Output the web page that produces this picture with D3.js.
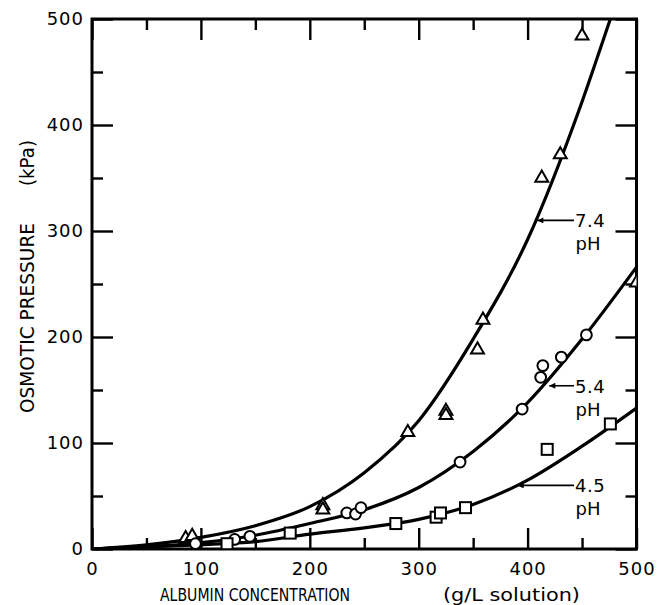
<!DOCTYPE html>
<html><head><meta charset="utf-8">
<script src="https://cdn.jsdelivr.net/npm/d3@7"></script>
<style>body{margin:0;background:#fff}svg{display:block}</style>
</head><body>
<svg id="c" width="658" height="605"></svg>
<script>
// ---- data ----
const xMajorTicks = [0,100,200,300,400,500];
const xMinorTicks = [50,150,250,350,450];
const yMajorTicks = [0,100,200,300,400,500];
const yMinorTicks = [50,150,250,350,450];

// fitted curves
const curve74X = [0,50,100,150,200,250,300,350,400,450,476,485];
const curve74Y = [0,4,11,22,40,72,121,198,292,422,500,527];
const curve54X = [0,50,100,150,200,250,300,350,400,450,500];
const curve54Y = [0,2,6,13,24,37,58,92,138,198,266];
const curve45X = [0,50,100,150,200,250,300,350,400,450,500];
const curve45Y = [0,2,4,7,14,20,28,42,65,97,133];

// measured points
const ph74X = [86,92,212,212,290,325,325,354,359,413,430,450,500];
const ph74Y = [11,13,42,38,111,131,127,189,217,351,373,485,252];
const ph54X = [95,131,145,234,242,247,338,395,412,414,431,454];
const ph54Y = [5,9,12,34,33,39,82,132,162,173,181,202];
const ph45X = [124,182,279,316,320,343,418,476];
const ph45Y = [5,15,24,30,34,39,94,118];

const labels = [
  {text:"7.4", sub:"pH", tipX:408, tipY:310},
  {text:"5.4", sub:"pH", tipX:419, tipY:154},
  {text:"4.5", sub:"pH", tipX:390, tipY:60}
];

// ---- layout ----
const L=92, R=636.5, T=19, B=549;
const svg = d3.select("#c");
const x = d3.scaleLinear().domain([0,500]).range([L,R]);
const y = d3.scaleLinear().domain([0,500]).range([B,T]);
const FONT = "'DejaVu Sans', sans-serif";

svg.append("defs").append("clipPath").attr("id","plot")
  .append("rect").attr("x",L).attr("y",T).attr("width",R-L).attr("height",B-T);

function styleAxis(g, showLabels){
  g.select(".domain").remove();
  g.selectAll(".tick line").attr("stroke","#000").attr("stroke-width",2.4);
  g.selectAll(".tick text").attr("font-family",FONT).attr("font-size",18)
    .attr("fill","#000").attr("letter-spacing","1px");
  if(!showLabels) g.selectAll(".tick text").remove();
}
function drawAxis(axisFn, scale, transform, majors, minors, showLabels, pad){
  const gMaj = svg.append("g").attr("transform",transform)
    .call(axisFn(scale).tickValues(majors).tickSizeInner(-21).tickSizeOuter(0).tickPadding(pad).tickFormat(d3.format("d")));
  styleAxis(gMaj, showLabels);
  const gMin = svg.append("g").attr("transform",transform)
    .call(axisFn(scale).tickValues(minors).tickSizeInner(-11).tickSizeOuter(0).tickFormat(""));
  styleAxis(gMin, false);
}
drawAxis(d3.axisBottom, x, `translate(0,${B})`, xMajorTicks, xMinorTicks, true, 13);
drawAxis(d3.axisTop, x, `translate(0,${T})`, xMajorTicks, xMinorTicks, false, 0);
drawAxis(d3.axisLeft, y, `translate(${L},0)`, yMajorTicks, yMinorTicks, true, 8);
drawAxis(d3.axisRight, y, `translate(${R},0)`, yMajorTicks, yMinorTicks, false, 0);

// frame
svg.append("rect").attr("x",L).attr("y",T).attr("width",R-L).attr("height",B-T)
  .attr("fill","none").attr("stroke","#000").attr("stroke-width",3);

// curves
const line = d3.line().x(d=>x(d[0])).y(d=>y(d[1])).curve(d3.curveMonotoneX);
const plot = svg.append("g").attr("clip-path","url(#plot)");
[[curve74X,curve74Y],[curve54X,curve54Y],[curve45X,curve45Y]].forEach(([xs,ys])=>{
  plot.append("path").datum(xs.map((v,i)=>[v,ys[i]])).attr("d",line)
    .attr("fill","none").attr("stroke","#000").attr("stroke-width",3.2);
});

// markers
const mk = svg.append("g").attr("clip-path","url(#plot)");
mk.selectAll(".tri").data(ph74X.map((v,i)=>[v,ph74Y[i]])).join("path")
  .attr("d",d3.symbol(d3.symbolTriangle, 72))
  .attr("transform",d=>`translate(${x(d[0])},${y(d[1])+1})`)
  .attr("fill","#fff").attr("stroke","#000").attr("stroke-width",2);
mk.selectAll(".cir").data(ph54X.map((v,i)=>[v,ph54Y[i]])).join("circle")
  .attr("cx",d=>x(d[0])).attr("cy",d=>y(d[1])).attr("r",5.4)
  .attr("fill","#fff").attr("stroke","#000").attr("stroke-width",2);
mk.selectAll(".sq").data(ph45X.map((v,i)=>[v,ph45Y[i]])).join("rect")
  .attr("x",d=>x(d[0])-5.5).attr("y",d=>y(d[1])-5.5).attr("width",11).attr("height",11)
  .attr("fill","#fff").attr("stroke","#000").attr("stroke-width",2);

// curve labels with arrows
const defs = svg.select("defs");
defs.append("marker").attr("id","arr").attr("viewBox","0 0 10 10").attr("refX",10).attr("refY",5)
  .attr("markerWidth",8).attr("markerHeight",6).attr("markerUnits","userSpaceOnUse").attr("orient","auto")
  .append("path").attr("d","M0,0L10,5L0,10z").attr("fill","#000");
labels.forEach(l=>{
  const tx = x(l.tipX), ty = y(l.tipY);
  svg.append("line").attr("x1",574).attr("y1",ty).attr("x2",tx+1).attr("y2",ty)
    .attr("stroke","#000").attr("stroke-width",1.6).attr("marker-end","url(#arr)");
  svg.append("text").attr("x",575).attr("y",ty+7).text(l.text)
    .attr("font-family",FONT).attr("font-size",18).attr("letter-spacing","0.5px");
  svg.append("text").attr("x",588).attr("y",ty+30).attr("text-anchor","middle").text(l.sub)
    .attr("font-family",FONT).attr("font-size",18);
});

// axis titles
svg.append("text").attr("x",160).attr("y",601).text("ALBUMIN CONCENTRATION")
  .attr("font-family",FONT).attr("font-size",18).attr("textLength",190).attr("lengthAdjust","spacingAndGlyphs");
svg.append("text").attr("x",443).attr("y",601).text("(g/L solution)")
  .attr("font-family",FONT).attr("font-size",18).attr("textLength",137).attr("lengthAdjust","spacingAndGlyphs");
svg.append("text").attr("transform","translate(34,413) rotate(-90)").text("OSMOTIC PRESSURE")
  .attr("font-family",FONT).attr("font-size",19).attr("textLength",190).attr("lengthAdjust","spacingAndGlyphs");
svg.append("text").attr("transform","translate(34,186) rotate(-90)").text("(kPa)")
  .attr("font-family",FONT).attr("font-size",19).attr("textLength",46).attr("lengthAdjust","spacingAndGlyphs");
</script>
</body></html>
